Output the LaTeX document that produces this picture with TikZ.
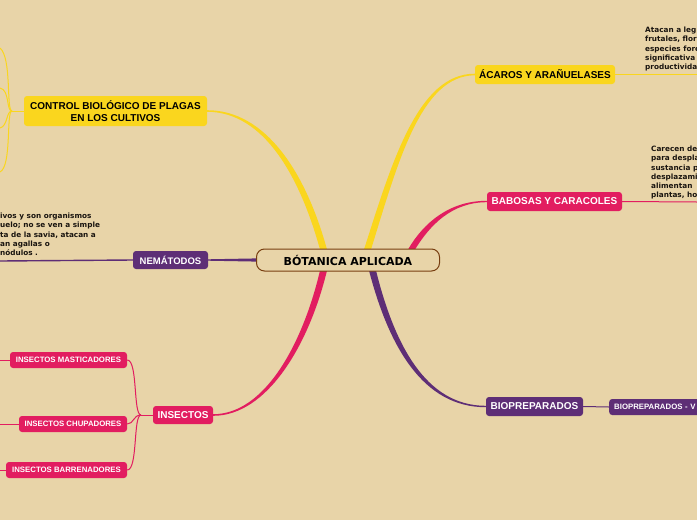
\documentclass[tikz,border=0pt]{standalone}
\usepackage{fontspec}
\setmainfont{Liberation Sans}
\newfontfamily\dejavu{DejaVu Sans}
\usetikzlibrary{calc}
\definecolor{bgc}{RGB}{232,212,168}
\definecolor{ylw}{RGB}{250,214,30}
\definecolor{pnk}{RGB}{226,29,96}
\definecolor{prp}{RGB}{94,46,118}
\definecolor{brn}{RGB}{120,62,16}
\definecolor{txt}{RGB}{25,20,15}
\pgfdeclarelayer{back}
\pgfsetlayers{back,main}
\begin{document}
\begin{tikzpicture}[x=1pt,y=-1pt,
  box/.style={rounded corners=3pt, inner sep=0pt, align=center, font=\bfseries\fontsize{10}{12.5}\selectfont},
  ybox/.style={box, fill=ylw, text=black},
  pbox/.style={box, fill=pnk, text=white},
  vbox/.style={box, fill=prp, text=white},
  sbox/.style={pbox, font=\bfseries\fontsize{7.8}{9}\selectfont, minimum height=16pt},
  para/.style={inner sep=0pt, align=left, anchor=north west, text=txt, font=\dejavu\bfseries\fontsize{7.3}{9.2}\selectfont},
  thin/.style={line width=1pt}]
\useasboundingbox (0,0) rectangle (697,520);
\clip (0,0) rectangle (697,520);

% nodes
\node[draw=brn, line width=1pt, fill=bgc, rounded corners=8pt, minimum width=183pt, minimum height=22pt, inner sep=0pt, font=\dejavu\bfseries\fontsize{11}{13}\selectfont, text=black] (root) at (348,260) {BÓTANICA APLICADA};
\node[ybox, minimum width=140pt, minimum height=19pt] (acaros) at (545,74.5) {ÁCAROS Y ARAÑUELASES};
\node[ybox, minimum width=183pt, minimum height=30pt] (control) at (115.5,111) {CONTROL BIOLÓGICO DE PLAGAS\\EN LOS CULTIVOS};
\node[pbox, minimum width=135pt, minimum height=19pt] (babosas) at (554.5,201.5) {BABOSAS Y CARACOLES};
\node[pbox, minimum width=60pt, minimum height=18pt] (insectos) at (183,415) {INSECTOS};
\node[vbox, minimum width=75pt, minimum height=18pt, font=\bfseries\fontsize{9.5}{11}\selectfont] (nema) at (170.5,260) {NEMÁTODOS};
\node[vbox, minimum width=97pt, minimum height=19pt] (biop) at (534.5,406.5) {BIOPREPARADOS};
\node[vbox, anchor=west, minimum width=110pt, minimum height=16pt, text width=100pt, align=left, inner xsep=5pt, font=\bfseries\fontsize{7.8}{9}\selectfont] (biov) at (609,407) {BIOPREPARADOS - V};
\node[sbox, minimum width=117pt] (mast) at (68.5,360) {INSECTOS MASTICADORES};
\node[sbox, minimum width=108pt] (chup) at (73,424) {INSECTOS CHUPADORES};
\node[sbox, minimum width=121pt] (barr) at (66.5,470) {INSECTOS BARRENADORES};

\node[para] (t1) at (645,27) {Atacan a leg\\frutales, flor\\especies fore\\significativa\\productivida};
\node[para] (t2) at (651,146) {Carecen de\\para despla\\sustancia p\\desplazami\\alimentan\\plantas, ho};
\node[para] (t3) at (0,213) {ivos y son organismos\\uelo; no se ven a simple\\ta de la savia, atacan a\\an agallas o\\nódulos .};

% free ends
\coordinate (ae) at (697,74.5);
\coordinate (be) at (697,202);
\coordinate (ne) at (0,261);
\coordinate (me) at (0,360);
\coordinate (ce) at (0,424);
\coordinate (re) at (0,470);
\coordinate (j1) at (12,111);
\coordinate (c1) at (0,48);
\coordinate (c2) at (0,88);
\coordinate (c3) at (0,128);
\coordinate (c4) at (0,172);
\coordinate (ij) at (141,415);

\begin{pgfonlayer}{back}
\fill[bgc] (0,0) rectangle (697,520);
% main tapered branches
\fill[ylw] ($(root.north)+(16,1)$) .. controls (392,162) and (418,73.5) .. ($(acaros.west)+(0,-0.8)$)
   -- ($(acaros.west)+(0,0.8)$) .. controls (421,75.5) and (398,162) .. ($(root.north)+(23,1)$) -- cycle;
\fill[ylw] ($(root.north)+(-21,1)$) .. controls (306,173) and (266,110.2) .. ($(control.east)+(0,-0.8)$)
   -- ($(control.east)+(0,0.8)$) .. controls (264,111.8) and (300,177) .. ($(root.north)+(-28,1)$) -- cycle;
\fill[pnk] ($(root.south)+(-21,-1)$) .. controls (309,345) and (267,415.8) .. ($(insectos.east)+(0,0.8)$)
   -- ($(insectos.east)+(0,-0.8)$) .. controls (265,414.2) and (303,343) .. ($(root.south)+(-28,-1)$) -- cycle;
\fill[pnk] ($(root.north)+(60,1)$) .. controls (424,222) and (450,200.8) .. ($(babosas.west)+(0,-0.7)$)
   -- ($(babosas.west)+(0,0.7)$) .. controls (452,202.2) and (430,225) .. ($(root.north)+(67,1)$) -- cycle;
\fill[prp] ($(root.south)+(21,-1)$) .. controls (389,347) and (423,407.2) .. ($(biop.west)+(0,0.7)$)
   -- ($(biop.west)+(0,-0.7)$) .. controls (425,405.8) and (394,343) .. ($(root.south)+(28,-1)$) -- cycle;
\fill[prp] ($(root.west)+(1,-1.6)$) -- ($(nema.east)+(0,-0.7)$) -- ($(nema.east)+(0,0.7)$) -- ($(root.west)+(1,1.6)$) -- cycle;

% thin connectors
\draw[ylw, thin] (acaros.east) -- (ae);
\draw[pnk, thin] (babosas.east) -- (be);
\draw[prp, thin] (biop.east) .. controls (596,406.5) and (596,407) .. (biov.west);
\draw[prp, line width=1.4pt] (nema.west) -- (ne);
\draw[ylw, thin] (control.west) -- (j1);
\draw[ylw, thin] (j1) .. controls (6,111) and (12,58) .. (c1);
\draw[ylw, thin] (j1) .. controls (6,111) and (10,90) .. (c2);
\draw[ylw, thin] (j1) .. controls (6,111) and (8,126) .. (c3);
\draw[ylw, thin] (j1) .. controls (6,111) and (12,166) .. (c4);
\draw[pnk, thin] (insectos.west) -- (ij);
\draw[pnk, thin] (ij) .. controls (133,415) and (138,360) .. (mast.east);
\draw[pnk, thin] (ij) .. controls (133,415) and (134,424) .. (chup.east);
\draw[pnk, thin] (ij) .. controls (133,415) and (138,470) .. (barr.east);
\draw[pnk, thin] (mast.west) -- (me);
\draw[pnk, thin] (chup.west) -- (ce);
\draw[pnk, thin] (barr.west) -- (re);
\end{pgfonlayer}
\end{tikzpicture}
\end{document}
